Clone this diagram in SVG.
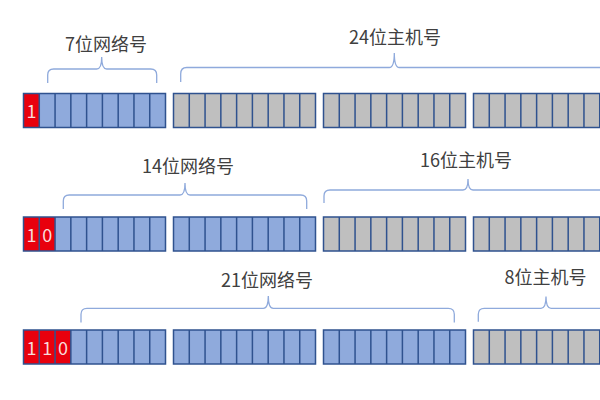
<svg xmlns="http://www.w3.org/2000/svg" xmlns:xlink="http://www.w3.org/1999/xlink" width="600" height="400" viewBox="0 0 600 400">
<style>
.blue{fill:#8FAADC}
.gray{fill:#BFBFBF}
.red{fill:#E8000D}
.grid{fill:none;stroke:#2F528F;stroke-width:1.5}
.bit{font-family:"Noto Sans CJK SC","Liberation Sans",sans-serif;font-size:18px;fill:#F8DADA;text-anchor:middle}
.label{font-family:"Noto Sans CJK SC","Liberation Sans",sans-serif;font-size:18px;fill:#404040;text-anchor:middle}
.brace{fill:none;stroke:#8FAADC;stroke-width:1.3}
</style>
<defs>
<g id="grid" class="grid">
<rect x="0" y="0" width="142" height="34"/>
<path d="M15.78 0V34M31.56 0V34M47.34 0V34M63.12 0V34M78.9 0V34M94.68 0V34M110.46 0V34M126.24 0V34"/>
</g>
</defs>
<rect width="600" height="400" fill="#FFFFFF"/>

<!-- Row 1 -->
<g id="r1b1" transform="translate(23.5,93.5)">
<rect class="blue" width="142" height="34"/>
<rect class="red" width="15.78" height="34"/>
<text class="bit" x="7.89" y="24.5">1</text>
<use xlink:href="#grid" href="#grid"/>
</g>
<g id="r1b2" transform="translate(173.5,93.5)"><rect class="gray" width="142" height="34"/><use xlink:href="#grid" href="#grid"/></g>
<g id="r1b3" transform="translate(323.5,93.5)"><rect class="gray" width="142" height="34"/><use xlink:href="#grid" href="#grid"/></g>
<g id="r1b4" transform="translate(473.5,93.5)"><rect class="gray" width="142" height="34"/><use xlink:href="#grid" href="#grid"/></g>

<!-- Row 2 -->
<g id="r2b1" transform="translate(23.5,217)">
<rect class="blue" width="142" height="34"/>
<rect class="red" width="31.56" height="34"/>
<text class="bit" x="7.89" y="24.5">1</text>
<text class="bit" x="23.67" y="24.5">0</text>
<use xlink:href="#grid" href="#grid"/>
</g>
<g id="r2b2" transform="translate(173.5,217)"><rect class="blue" width="142" height="34"/><use xlink:href="#grid" href="#grid"/></g>
<g id="r2b3" transform="translate(323.5,217)"><rect class="gray" width="142" height="34"/><use xlink:href="#grid" href="#grid"/></g>
<g id="r2b4" transform="translate(473.5,217)"><rect class="gray" width="142" height="34"/><use xlink:href="#grid" href="#grid"/></g>

<!-- Row 3 -->
<g id="r3b1" transform="translate(23.5,330)">
<rect class="blue" width="142" height="34"/>
<rect class="red" width="47.34" height="34"/>
<text class="bit" x="7.89" y="24.5">1</text>
<text class="bit" x="23.67" y="24.5">1</text>
<text class="bit" x="39.45" y="24.5">0</text>
<use xlink:href="#grid" href="#grid"/>
</g>
<g id="r3b2" transform="translate(173.5,330)"><rect class="blue" width="142" height="34"/><use xlink:href="#grid" href="#grid"/></g>
<g id="r3b3" transform="translate(323.5,330)"><rect class="blue" width="142" height="34"/><use xlink:href="#grid" href="#grid"/></g>
<g id="r3b4" transform="translate(473.5,330)"><rect class="gray" width="142" height="34"/><use xlink:href="#grid" href="#grid"/></g>

<!-- Braces -->
<g id="braces" class="brace">
<path d="M47.7 83V75Q47.7 69 53.7 69H96.7Q101.7 69 101.7 57Q101.7 69 106.7 69H150.7Q156.7 69 156.7 75V83"/>
<path d="M180.7 82V74Q180.7 67.5 186.7 67.5H389.3Q394.3 67.5 394.3 53Q394.3 67.5 399.3 67.5H601"/>
<path d="M63.3 209V201Q63.3 195 69.3 195H180Q185 195 185 183Q185 195 190 195H300.7Q306.7 195 306.7 201V209"/>
<path d="M324 203V196Q324 190 330 190H463Q468 190 468 179Q468 190 473 190H601"/>
<path d="M81 322.5V314.3Q81 308.3 87 308.3H263.3Q268.3 308.3 268.3 296Q268.3 308.3 273.3 308.3H448.3Q454.3 308.3 454.3 314.3V322.5"/>
<path d="M478.3 321.7V314.3Q478.3 308.3 484.3 308.3H541Q546 308.3 546 296.5Q546 308.3 551 308.3H601"/>
</g>

<!-- Labels -->
<g id="labels">
<text class="label" x="106" y="50.5">7位网络号</text>
<text class="label" x="395" y="44">24位主机号</text>
<text class="label" x="188" y="173">14位网络号</text>
<text class="label" x="466" y="167">16位主机号</text>
<text class="label" x="267" y="286.5">21位网络号</text>
<text class="label" x="545.5" y="284">8位主机号</text>
</g>
</svg>
